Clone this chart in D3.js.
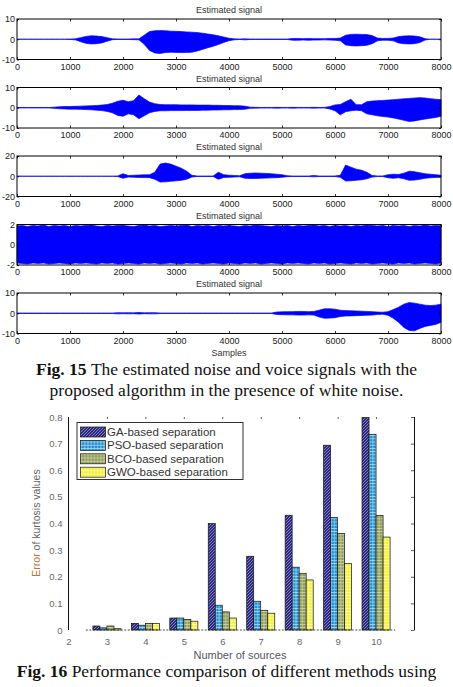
<!DOCTYPE html>
<html>
<head>
<meta charset="utf-8">
<script src="https://cdn.jsdelivr.net/npm/d3@7/dist/d3.min.js"></script>
<style>
  body { margin: 0; background: #fff; }
  svg { display: block; }
  .tick text { font-family: "Liberation Sans", Arial, sans-serif; }
</style>
</head>
<body>
<svg id="chart" width="453" height="687"></svg>
<script>
// ---- Fig. 15 : envelopes of the estimated signals, one value every 100 samples ----
const sampleStep = 100;

const sig1Upper = [
  0, 0, 0, 0, 0, 0, 0, 0, 0, 0,
  0.1, 0.2, 0.8, 1.4, 1.7, 1.6, 1.3, 0.8, 0.2, 0.1,
  0.1, 0.1, 0.2, 0.2, 2.0, 3.8, 4.2, 4.3, 4.2, 4.0,
  3.9, 3.8, 3.6, 3.5, 3.3, 3.0, 2.6, 2.2, 1.7, 1.1,
  0.5, 0.2, 0.1, 0.2, 0.1, 0.1, 0.1, 0.1, 0.1, 0.1,
  0.1, 0.1, 0.4, 0.4, 0.3, 0.4, 0.3, 0.3, 0.3, 0.4,
  0.4, 0.6, 2.0, 2.4, 2.5, 2.4, 2.3, 1.8, 0.6, 0.4,
  0.4, 0.6, 1.3, 1.6, 1.7, 1.6, 1.2, 0.3, 0, 0,
  0
];
const sig1Lower = [
  0, 0, 0, 0, 0, 0, 0, 0, 0, 0,
  -0.1, -0.3, -1.2, -2.0, -2.3, -2.2, -1.8, -1.0, -0.2, -0.1,
  -0.1, -0.1, -0.2, -0.3, -2.5, -5.5, -6.8, -7.0, -6.6, -6.4,
  -6.5, -6.6, -6.5, -6.4, -5.8, -5.0, -4.2, -3.5, -2.6, -1.6,
  -0.7, -0.3, -0.1, -0.3, -0.1, -0.1, -0.1, -0.1, -0.1, -0.1,
  -0.1, -0.1, -0.5, -0.5, -0.4, -0.5, -0.4, -0.4, -0.3, -0.4,
  -0.5, -0.8, -2.8, -3.2, -3.3, -3.2, -3.0, -2.2, -0.8, -0.5,
  -0.5, -0.8, -1.8, -2.2, -2.3, -2.2, -1.6, -0.4, 0, 0,
  0
];

const sig2Upper = [
  0.1, 0.1, 0.1, 0.1, 0.1, 0.1, 0.1, 0.3, 0.5, 0.6,
  0.6, 0.7, 0.8, 0.9, 1.0, 1.1, 1.3, 1.6, 2.2, 3.2,
  3.7, 3.0, 3.5, 6.3, 4.5, 2.8, 2.0, 1.6, 1.5, 1.5,
  1.5, 1.4, 1.4, 1.4, 1.3, 1.3, 1.3, 1.2, 1.2, 1.1,
  1.1, 1.0, 1.0, 0.8, 0.3, 0.2, 0.15, 0.15, 0.15, 0.2,
  0.15, 0.15, 0.2, 0.15, 0.15, 0.15, 0.2, 0.15, 0.15, 0.6,
  1.4, 1.6, 3.0, 4.2, 1.5, 1.5, 3.0, 3.3, 3.5, 3.6,
  3.8, 4.0, 4.2, 4.4, 4.6, 4.8, 5.0, 4.8, 4.5, 4.2,
  4.0
];
const sig2Lower = [
  -0.1, -0.1, -0.1, -0.1, -0.1, -0.1, -0.1, -0.3, -0.5, -0.6,
  -0.7, -0.7, -0.8, -0.9, -1.0, -1.2, -1.4, -1.8, -2.5, -3.8,
  -4.2, -3.0, -3.5, -5.4, -4.0, -2.5, -1.8, -1.5, -1.5, -1.4,
  -1.4, -1.4, -1.3, -1.3, -1.3, -1.2, -1.2, -1.1, -1.1, -1.0,
  -1.0, -0.9, -0.9, -0.7, -0.3, -0.2, -0.15, -0.15, -0.15, -0.2,
  -0.15, -0.15, -0.2, -0.15, -0.15, -0.15, -0.2, -0.15, -0.15, -0.6,
  -1.5, -3.5, -2.0, -1.5, -1.2, -1.5, -3.0, -3.5, -4.0, -4.3,
  -4.6, -5.0, -5.6, -6.2, -6.8, -6.5, -6.0, -5.6, -5.2, -4.8,
  -4.2
];

const sig3Upper = [
  0.1, 0.1, 0.1, 0.1, 0.1, 0.1, 0.1, 0.1, 0.1, 0.1,
  0.1, 0.1, 0.1, 0.1, 0.1, 0.1, 0.1, 0.1, 0.1, 0.3,
  2.5, 0.8, 1.0, 1.2, 1.4, 1.5, 4.0, 12.0, 13.0, 12.0,
  10.0, 8.0, 5.0, 1.0, 0.2, 0.2, 0.2, 0.2, 4.0, 1.5,
  1.0, 0.8, 0.5, 2.5, 3.0, 3.2, 3.0, 2.8, 2.5, 2.0,
  1.5, 0.5, 0.2, 0.2, 0.2, 0.2, 0.8, 0.2, 0.2, 0.2,
  0.3, 1.0, 11.0, 9.0, 7.0, 6.0, 4.0, 0.8, 0.3, 0.3,
  1.5, 2.0, 1.8, 3.0, 5.0, 4.5, 3.5, 2.5, 2.0, 1.5,
  1.0
];
const sig3Lower = [
  -0.1, -0.1, -0.1, -0.1, -0.1, -0.1, -0.1, -0.1, -0.1, -0.1,
  -0.1, -0.1, -0.1, -0.1, -0.1, -0.1, -0.1, -0.1, -0.1, -0.3,
  -2.0, -0.8, -1.0, -1.2, -1.3, -1.4, -3.0, -5.7, -5.5, -5.0,
  -4.5, -4.0, -3.0, -0.8, -0.2, -0.2, -0.2, -0.2, -3.0, -1.2,
  -1.0, -0.8, -0.5, -2.0, -2.2, -2.2, -2.0, -1.8, -1.6, -1.4,
  -1.0, -0.4, -0.2, -0.2, -0.2, -0.2, -0.6, -0.2, -0.2, -0.2,
  -0.3, -1.0, -4.7, -4.5, -4.0, -3.5, -2.5, -0.8, -0.3, -0.3,
  -1.5, -2.0, -1.5, -2.5, -4.0, -3.8, -3.0, -2.0, -1.5, -1.2,
  -1.0
];

const sig4Upper = [
  1.85, 1.9, 1.8, 1.9, 1.85, 1.95, 1.8, 1.9, 1.85, 1.9,
  1.8, 1.9, 1.85, 1.9, 1.95, 1.85, 1.8, 1.9, 1.85, 1.9,
  1.9, 1.85, 1.8, 1.9, 1.95, 1.85, 1.9, 1.8, 1.85, 1.9,
  1.85, 1.9, 1.95, 1.8, 1.9, 1.85, 1.9, 1.8, 1.9, 1.85,
  1.9, 1.85, 1.8, 1.9, 1.85, 1.95, 1.9, 1.85, 1.8, 1.9,
  1.85, 1.9, 1.8, 1.9, 1.85, 1.9, 1.95, 1.85, 1.9, 1.8,
  1.9, 1.85, 1.9, 1.8, 1.9, 1.85, 1.95, 1.9, 1.85, 1.9,
  1.8, 1.9, 1.85, 1.9, 1.8, 1.9, 1.85, 1.95, 1.85, 1.9,
  1.85
];
const sig4Lower = [
  -1.8, -1.85, -1.9, -1.8, -1.85, -1.8, -1.9, -1.85, -1.8, -1.85,
  -1.9, -1.8, -1.85, -1.8, -1.85, -1.9, -1.8, -1.85, -1.8, -1.9,
  -1.85, -1.8, -1.85, -1.9, -1.8, -1.85, -1.8, -1.9, -1.85, -1.8,
  -1.85, -1.9, -1.8, -1.85, -1.8, -1.9, -1.85, -1.8, -1.85, -1.9,
  -1.8, -1.85, -1.9, -1.8, -1.85, -1.8, -1.9, -1.85, -1.8, -1.85,
  -1.9, -1.8, -1.85, -1.8, -1.85, -1.9, -1.8, -1.85, -1.8, -1.9,
  -1.85, -1.8, -1.85, -1.9, -1.8, -1.85, -1.8, -1.9, -1.85, -1.8,
  -1.85, -1.9, -1.8, -1.85, -1.8, -1.9, -1.85, -1.8, -1.85, -1.9,
  -1.8
];

const sig5Upper = [
  0.1, 0.1, 0.1, 0.1, 0.1, 0.1, 0.1, 0.1, 0.1, 0.1,
  0.1, 0.1, 0.1, 0.1, 0.1, 0.1, 0.1, 0.1, 0.1, 0.3,
  0.2, 0.3, 0.2, 0.4, 0.2, 0.3, 0.3, 0.1, 0.1, 0.1,
  0.1, 0.1, 0.1, 0.1, 0.1, 0.1, 0.1, 0.1, 0.1, 0.1,
  0.1, 0.1, 0.1, 0.1, 0.1, 0.1, 0.1, 0.1, 0.1, 0.6,
  0.7, 0.8, 0.8, 0.9, 0.9, 0.8, 0.9, 1.5, 2.2, 2.2,
  2.0, 1.5, 1.3, 1.2, 1.1, 1.0, 0.9, 0.8, 0.6, 0.5,
  0.8, 1.8, 3.0, 4.5, 5.3, 5.0, 4.5, 4.0, 3.8, 4.0,
  4.5
];
const sig5Lower = [
  -0.1, -0.1, -0.1, -0.1, -0.1, -0.1, -0.1, -0.1, -0.1, -0.1,
  -0.1, -0.1, -0.1, -0.1, -0.1, -0.1, -0.1, -0.1, -0.1, -0.3,
  -0.2, -0.3, -0.2, -0.4, -0.2, -0.3, -0.3, -0.1, -0.1, -0.1,
  -0.1, -0.1, -0.1, -0.1, -0.1, -0.1, -0.1, -0.1, -0.1, -0.1,
  -0.1, -0.1, -0.1, -0.1, -0.1, -0.1, -0.1, -0.1, -0.1, -0.6,
  -0.7, -0.8, -0.8, -0.9, -0.9, -0.8, -0.9, -1.8, -2.5, -2.4,
  -2.2, -1.6, -1.4, -1.3, -1.2, -1.1, -1.0, -0.9, -0.6, -0.5,
  -1.0, -2.5, -4.5, -7.0, -8.5, -8.7, -7.5, -6.5, -6.0, -5.5,
  -4.5
];

const signalLimits = [10, 10, 20, 2, 10];
const signalXTicks = [0, 1000, 2000, 3000, 4000, 5000, 6000, 7000, 8000];

// ---- Fig. 16 : error of kurtosis values ----
const sources = [3, 4, 5, 6, 7, 8, 9, 10];
const methods = ['GA-based separation', 'PSO-based separation', 'BCO-based separation', 'GWO-based separation'];
const gaErr = [0.015, 0.025, 0.045, 0.400, 0.277, 0.431, 0.694, 0.798];
const psoErr = [0.008, 0.018, 0.045, 0.093, 0.108, 0.236, 0.423, 0.735];
const bcoErr = [0.015, 0.025, 0.040, 0.068, 0.074, 0.213, 0.363, 0.430];
const gwoErr = [0.005, 0.025, 0.033, 0.045, 0.063, 0.188, 0.250, 0.349];
const errTicks = [0, 0.1, 0.2, 0.3, 0.4, 0.5, 0.6, 0.7, 0.8];
const sourceTicks = [2, 3, 4, 5, 6, 7, 8, 9, 10];

const svg = d3.select('#chart');
const sansFont = '"Liberation Sans", Arial, sans-serif';
const serifFont = '"Liberation Serif", "Times New Roman", serif';
const signalBlue = '#0000ff';

// ---------------- signal panels ----------------
const panelLeft = 17;
const panelRight = 441;
const panelTop0 = 19;
const panelStep = 68.5;
const panelHeight = 40.5;

const xSig = d3.scaleLinear().domain([0, 8000]).range([panelLeft, panelRight]);

const envelopes = [
  [sig1Upper, sig1Lower],
  [sig2Upper, sig2Lower],
  [sig3Upper, sig3Lower],
  [sig4Upper, sig4Lower],
  [sig5Upper, sig5Lower]
];

envelopes.forEach(([upper, lower], i) => {
  const top = panelTop0 + i * panelStep;
  const bottom = top + panelHeight;
  const lim = signalLimits[i];
  const ySig = d3.scaleLinear().domain([-lim, lim]).range([bottom, top]);
  const g = svg.append('g').attr('class', `panel panel${i}`);

  // title
  g.append('text')
    .attr('x', (panelLeft + panelRight) / 2)
    .attr('y', top - 6)
    .attr('text-anchor', 'middle')
    .attr('font-family', sansFont)
    .attr('font-size', 9)
    .attr('fill', '#333')
    .text('Estimated signal');

  const pts = upper.map((u, k) => ({ s: k * sampleStep, u: u, l: lower[k] }));

  g.append('path')
    .datum(pts)
    .attr('fill', signalBlue)
    .attr('stroke', signalBlue)
    .attr('stroke-width', 0.7)
    .attr('d', d3.area()
      .x(d => xSig(d.s))
      .y0(d => ySig(d.l))
      .y1(d => ySig(d.u))
    );

  // axes (MATLAB style: inward ticks on all four sides)
  const bottomAxis = g.append('g')
    .attr('transform', `translate(0,${bottom})`)
    .call(d3.axisBottom(xSig).tickValues(signalXTicks).tickSize(-2.5).tickPadding(4)
      .tickFormat(d3.format('d')));
  const topAxis = g.append('g')
    .attr('transform', `translate(0,${top})`)
    .call(d3.axisTop(xSig).tickValues(signalXTicks).tickSize(-2.5).tickFormat(''));
  const leftAxis = g.append('g')
    .attr('transform', `translate(${panelLeft},0)`)
    .call(d3.axisLeft(ySig).tickValues([-lim, 0, lim]).tickSize(-2).tickPadding(2)
      .tickFormat(d3.format('d')));
  const rightAxis = g.append('g')
    .attr('transform', `translate(${panelRight},0)`)
    .call(d3.axisRight(ySig).tickValues([-lim, 0, lim]).tickSize(-2).tickFormat(''));

  [bottomAxis, topAxis, leftAxis, rightAxis].forEach(ax => {
    ax.select('.domain').remove();
    ax.selectAll('.tick line').attr('stroke', '#000').attr('stroke-width', 0.8);
    ax.selectAll('.tick text').attr('font-size', 9).attr('fill', '#222');
  });
  // '-' instead of the typographic minus, as in the MATLAB figure
  leftAxis.selectAll('.tick text').text(d => String(d));

  g.append('rect')
    .attr('x', panelLeft)
    .attr('y', top)
    .attr('width', panelRight - panelLeft)
    .attr('height', panelHeight)
    .attr('fill', 'none')
    .attr('stroke', '#000')
    .attr('stroke-width', 1);
});

svg.append('text')
  .attr('x', (panelLeft + panelRight) / 2)
  .attr('y', 356)
  .attr('text-anchor', 'middle')
  .attr('font-family', sansFont)
  .attr('font-size', 9)
  .attr('fill', '#333')
  .text('Samples');

// ---------------- captions ----------------
function caption(y, bold, rest) {
  const t = svg.append('text')
    .attr('x', 226.5)
    .attr('y', y)
    .attr('text-anchor', 'middle')
    .attr('font-family', serifFont)
    .attr('font-size', 17.5)
    .attr('fill', '#111');
  if (bold) {
    t.append('tspan').attr('font-weight', 'bold').text(bold + ' ');
  }
  t.append('tspan').text(rest);
}
caption(375, 'Fig. 15', 'The estimated noise and voice signals with the');
caption(396, null, 'proposed algorithm in the presence of white noise.');
caption(677, 'Fig. 16', 'Performance comparison of different methods using');
caption(700, null, 'the kurtosis values with white noise.');

// ---------------- bar chart ----------------
const barLeft = 68.5;
const barRight = 414.5;
const barTop = 417;
const barBottom = 630;

const xBar = d3.scaleLinear().domain([2, 11]).range([barLeft, barRight]);
const yBar = d3.scaleLinear().domain([0, 0.8]).range([barBottom, barTop]);

const defs = svg.append('defs');

// diagonal hatch for GA
const gaPat = defs.append('pattern')
  .attr('id', 'patGA')
  .attr('patternUnits', 'userSpaceOnUse')
  .attr('width', 3).attr('height', 3);
gaPat.append('rect').attr('width', 3).attr('height', 3).attr('fill', '#2f2b82');
gaPat.append('path')
  .attr('d', 'M-1,1 L1,-1 M0,3 L3,0 M2,4 L4,2')
  .attr('stroke', '#c8c8f0').attr('stroke-width', 0.7).attr('opacity', 0.75);

// grid patterns for the others
function gridPattern(id, base, line, op) {
  const p = defs.append('pattern')
    .attr('id', id)
    .attr('patternUnits', 'userSpaceOnUse')
    .attr('width', 3.2).attr('height', 3.2);
  p.append('rect').attr('width', 3.2).attr('height', 3.2).attr('fill', base);
  p.append('path')
    .attr('d', 'M0,0.4 H3.2 M1.6,0 V3.2')
    .attr('stroke', line).attr('stroke-width', 0.7).attr('opacity', op);
}
gridPattern('patPSO', '#1d8fd1', '#e8f6ff', 0.75);
gridPattern('patBCO', '#8d9b57', '#eef2d8', 0.7);
gridPattern('patGWO', '#f2f02c', '#fffff0', 0.8);

const fills = ['url(#patGA)', 'url(#patPSO)', 'url(#patBCO)', 'url(#patGWO)'];
const seriesVals = [gaErr, psoErr, bcoErr, gwoErr];

const groupWidth = 0.73;
const xInner = d3.scaleBand()
  .domain(d3.range(methods.length))
  .range([-groupWidth / 2, groupWidth / 2])
  .padding(0);

const barG = svg.append('g').attr('class', 'bars');
seriesVals.forEach((vals, m) => {
  barG.selectAll(`.bar${m}`)
    .data(vals)
    .enter()
    .append('rect')
    .attr('class', `bar${m}`)
    .attr('x', (d, k) => xBar(sources[k] + xInner(m)))
    .attr('width', xBar(2 + xInner.bandwidth()) - xBar(2))
    .attr('y', d => yBar(d))
    .attr('height', d => yBar(0) - yBar(d))
    .attr('fill', fills[m])
    .attr('stroke', '#111')
    .attr('stroke-width', 0.7);
});

// dashed baseline
svg.append('line')
  .attr('x1', xBar(2.45)).attr('x2', xBar(10.5))
  .attr('y1', yBar(0)).attr('y2', yBar(0))
  .attr('stroke', '#222')
  .attr('stroke-width', 0.8)
  .attr('stroke-dasharray', '2,1.5');

// axes
const yLeftAxis = svg.append('g')
  .attr('transform', `translate(${barLeft},0)`)
  .call(d3.axisLeft(yBar).tickValues(errTicks).tickSize(0).tickPadding(6)
    .tickFormat(d => d === 0 ? '0' : d3.format('.1f')(d)));
yLeftAxis.select('.domain').remove();

const yRightAxis = svg.append('g')
  .attr('transform', `translate(${barRight},0)`)
  .call(d3.axisRight(yBar).tickValues(errTicks).tickSize(-3.5).tickFormat(''));
yRightAxis.select('.domain').remove();

const xBottomAxis = svg.append('g')
  .attr('transform', `translate(0,${barBottom})`)
  .call(d3.axisBottom(xBar).tickValues(sourceTicks).tickSize(0).tickPadding(8).tickFormat(d3.format('d')));
xBottomAxis.select('.domain').remove();

const xTopAxis = svg.append('g')
  .attr('transform', `translate(0,${barTop})`)
  .call(d3.axisTop(xBar).tickValues(sourceTicks.slice(1)).tickSize(-2).tickFormat(''));
xTopAxis.select('.domain').remove();

[yLeftAxis, yRightAxis, xBottomAxis, xTopAxis].forEach(ax => {
  ax.selectAll('.tick line').attr('stroke', '#333').attr('stroke-width', 0.8);
  ax.selectAll('.tick text').attr('font-size', 9.5).attr('fill', '#666');
});

svg.append('line')
  .attr('x1', barLeft).attr('x2', barLeft)
  .attr('y1', barTop).attr('y2', barBottom)
  .attr('stroke', '#111').attr('stroke-width', 1);
svg.append('line')
  .attr('x1', barRight).attr('x2', barRight)
  .attr('y1', barTop).attr('y2', barBottom)
  .attr('stroke', '#111').attr('stroke-width', 1);

// axis titles
svg.append('text')
  .attr('x', 240)
  .attr('y', 659)
  .attr('text-anchor', 'middle')
  .attr('font-family', sansFont)
  .attr('font-size', 11)
  .attr('fill', '#556')
  .text('Number of sources');

const yTitle = svg.append('text')
  .attr('transform', 'translate(40,523) rotate(-90)')
  .attr('text-anchor', 'middle')
  .attr('font-family', sansFont)
  .attr('font-size', 10.5)
  .attr('fill', '#666');
yTitle.append('tspan').attr('fill', '#b8743a').text('Error');
yTitle.append('tspan').text(' of kurtosis values');

// legend
const legend = svg.append('g').attr('class', 'legend');
legend.append('rect')
  .attr('x', 77).attr('y', 422.5)
  .attr('width', 166).attr('height', 57)
  .attr('fill', '#fff')
  .attr('stroke', '#333')
  .attr('stroke-width', 1);

methods.forEach((name, m) => {
  const cy = 432 + m * 13.4;
  legend.append('rect')
    .attr('x', 80.5).attr('y', cy - 5)
    .attr('width', 25).attr('height', 10)
    .attr('fill', fills[m])
    .attr('stroke', '#111')
    .attr('stroke-width', 0.7);
  legend.append('text')
    .attr('x', 107)
    .attr('y', cy + 4)
    .attr('font-family', sansFont)
    .attr('font-size', 11.5)
    .attr('fill', '#333')
    .text(name);
});
</script>
</body>
</html>
